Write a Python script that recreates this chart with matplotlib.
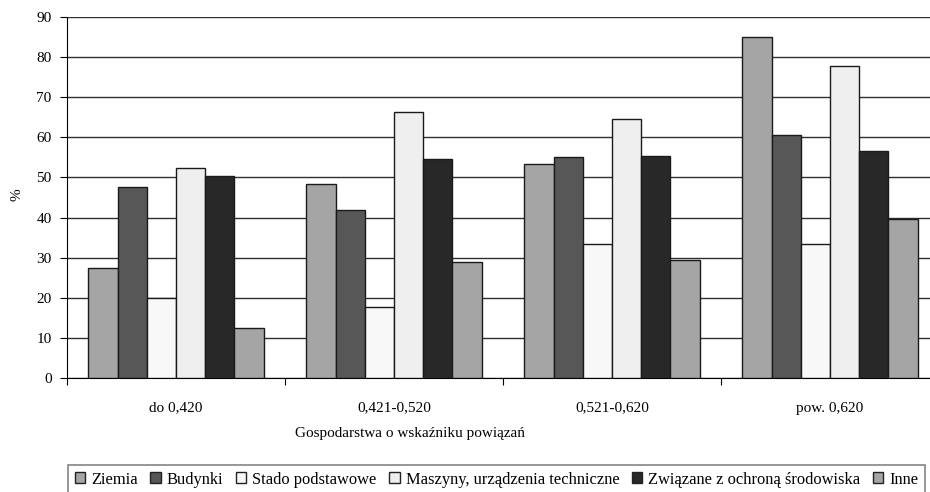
import matplotlib
matplotlib.use('Agg')
import matplotlib.pyplot as plt
import numpy as np
from matplotlib.font_manager import FontProperties

plt.rcParams['font.family'] = ['Liberation Serif', 'DejaVu Serif']

groups = ['do 0,420', '0,421-0,520', '0,521-0,620', 'pow. 0,620']
series = ['Ziemia', 'Budynki', 'Stado podstawowe', 'Maszyny, urządzenia techniczne',
          'Związane z ochroną środowiska', 'Inne']
values = [
    [27.3, 48.4, 53.3, 85.0],   # Ziemia
    [47.5, 42.0, 55.0, 60.5],   # Budynki
    [20.0, 17.7, 33.3, 33.3],   # Stado podstawowe
    [52.3, 66.2, 64.6, 77.7],   # Maszyny
    [50.3, 54.7, 55.3, 56.7],   # Związane z ochroną
    [12.5, 29.0, 29.4, 39.6],   # Inne
]
colors = ['#a5a5a5', '#575757', '#f8f8f8', '#efefef', '#282828', '#a5a5a5']


def main():
    fig = plt.figure(figsize=(9.3, 4.92), dpi=100)
    # axes right edge runs past the figure, as in the cropped original
    ax = fig.add_axes([67 / 930, 1 - 378 / 492, 872 / 930, 361 / 492])

    x = np.arange(len(groups))
    w = 0.134
    for i, (name, vals) in enumerate(zip(series, values)):
        ax.bar(x + (i - 2.5) * w, vals, w, color=colors[i], edgecolor='#1a1a1a',
               linewidth=1.0, label=name, zorder=3)

    ax.set_xlim(-0.5, 3.5)
    ax.set_ylim(0, 90)
    ax.set_yticks(range(0, 91, 10))
    ax.yaxis.grid(True, color='#303030', linewidth=1.0, zorder=0)
    ax.set_xticks(np.arange(-0.5, 4, 1))
    ax.set_xticklabels([])
    ax.set_xticks(x, minor=True)
    ax.set_xticklabels(groups, minor=True)
    ax.tick_params(axis='x', which='minor', length=0, pad=17, labelsize=11)
    ax.tick_params(axis='x', which='major', length=5, direction='out')
    ax.tick_params(axis='y', length=5, direction='out', labelsize=11, pad=6)
    for s in ['top', 'right']:
        ax.spines[s].set_visible(False)
    ax.spines['left'].set_color('black')
    ax.spines['bottom'].set_color('black')

    fig.text(17 / 930, 1 - 195 / 492, '%', rotation=90, ha='center', va='center', fontsize=11)
    fig.text(410 / 930, 1 - 434 / 492, 'Gospodarstwa o wskaźniku powiązań',
             ha='center', va='center', fontsize=11)

    # legend box is cut by the bottom edge of the picture in the original
    prop = FontProperties(family=['Liberation Serif', 'DejaVu Serif'], size=11.9)
    leg = fig.legend(loc='upper left', bbox_to_anchor=(68 / 930, 1 - 465 / 492), ncol=6,
                     frameon=True, fancybox=False, prop=prop, handlelength=0.65,
                     handleheight=0.65, handletextpad=0.35, columnspacing=0.75,
                     borderpad=0.4, borderaxespad=0)
    leg.get_frame().set_edgecolor('#666666')
    leg.get_frame().set_linewidth(1.2)
    for h in leg.legend_handles:
        h.set_edgecolor('#222222')

    fig.savefig('out.png', dpi=100)


if __name__ == '__main__':
    main()
